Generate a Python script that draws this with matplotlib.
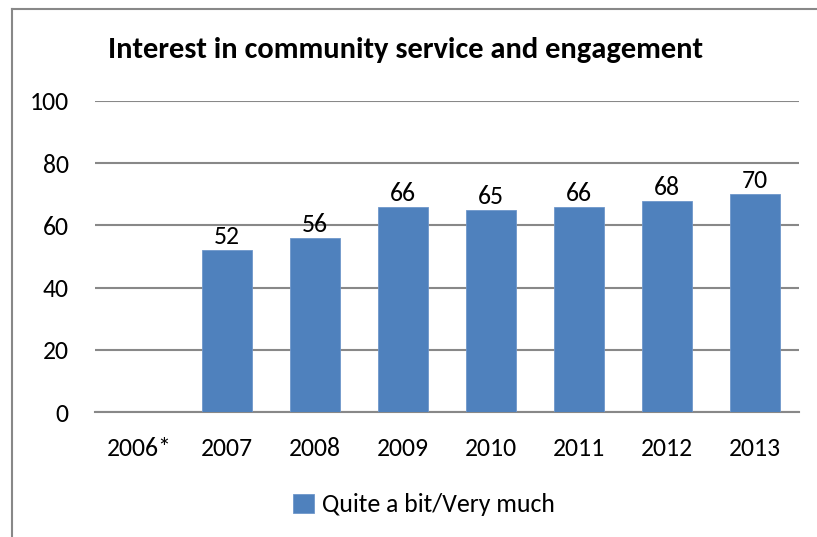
import numpy as np
import matplotlib
matplotlib.use("Agg")
import matplotlib.pyplot as plt
from matplotlib import font_manager

# Data
years = ["2006*", "2007", "2008", "2009", "2010", "2011", "2012", "2013"]
values = [np.nan, 52, 56, 66, 65, 66, 68, 70]
series_name = "Quite a bit/Very much"
title = "Interest in community service and engagement"
y_ticks = [0, 20, 40, 60, 80, 100]

available = {f.name for f in font_manager.fontManager.ttflist}
family = "Carlito" if "Carlito" in available else "Lato"
plt.rcParams["font.family"] = [family, "DejaVu Sans"]

W, H, DPI = 817, 537, 100
fig = plt.figure(figsize=(W / DPI, H / DPI), dpi=DPI)
fig.patch.set_facecolor("white")

# Chart frame (left and top edges visible)
fig.add_artist(plt.Line2D([12 / W, 12 / W], [0, 1 - 9 / H], transform=fig.transFigure,
                          color="#888888", lw=1.5))
fig.add_artist(plt.Line2D([12 / W, 1], [1 - 9 / H, 1 - 9 / H], transform=fig.transFigure,
                          color="#888888", lw=1.5))

x0, x1 = 95, 799
y0, y1 = 412, 101
ax = fig.add_axes([x0 / W, 1 - y0 / H, (x1 - x0) / W, (y0 - y1) / H])

x = np.arange(len(years))
bar_color = "#4F81BD"
bars = ax.bar(x, np.nan_to_num(values, nan=0.0), width=0.57, color=bar_color,
              edgecolor="#6F97CB", linewidth=0.6, zorder=3, label=series_name)

fs = 18.5
for xi, v in zip(x, values):
    if not np.isnan(v):
        ax.text(xi, v + 0.6, f"{v:g}", ha="center", va="bottom", fontsize=fs,
                color="#000000", zorder=4)

ax.set_xlim(-0.5, len(years) - 0.5)
ax.set_ylim(0, 100)
ax.set_yticks(y_ticks)
ax.set_yticklabels([str(t) for t in y_ticks], fontsize=fs)
ax.set_xticks(x)
ax.set_xticklabels(years, fontsize=fs)
ax.yaxis.grid(True, color="#888888", linewidth=1.5, zorder=0)
ax.set_axisbelow(True)
for s in ["top", "right", "left"]:
    ax.spines[s].set_visible(False)
ax.spines["bottom"].set_color("#888888")
ax.spines["bottom"].set_linewidth(1.5)
ax.tick_params(axis="both", length=0)
ax.tick_params(axis="y", pad=19)
ax.tick_params(axis="x", pad=18)

fig.text(405 / W, 1 - 50 / H, title, ha="center", va="center", fontsize=22,
         fontweight="bold", color="#000000")

leg = fig.legend(handles=[bars], labels=[series_name], loc="center",
                 bbox_to_anchor=(424 / W, 1 - 505 / H), frameon=False, fontsize=fs,
                 handlelength=0.8, handleheight=0.8, handletextpad=0.3)

fig.savefig("out.png", dpi=DPI, facecolor="white")
